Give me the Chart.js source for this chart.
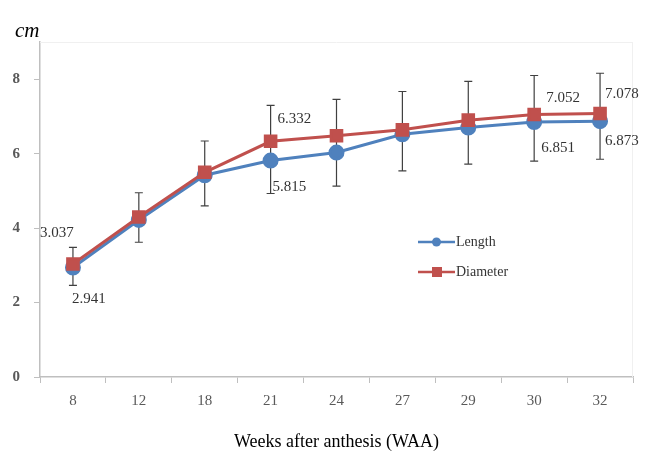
<!DOCTYPE html>
<html>
<head>
<meta charset="utf-8">
<script src="https://cdn.jsdelivr.net/npm/chart.js@4"></script>
<style>
  html, body { margin: 0; padding: 0; background: #fff; }
  #wrap { width: 649px; height: 461px; position: relative; }
</style>
</head>
<body>
<div id="wrap"><canvas id="chart"></canvas></div>
<script>
// Data
const weeks = ['8', '12', '18', '21', '24', '27', '29', '30', '32'];
const lengthValues = [2.941, 4.22, 5.42, 5.815, 6.03, 6.52, 6.70, 6.851, 6.873];
const diameterValues = [3.037, 4.30, 5.50, 6.332, 6.48, 6.64, 6.90, 7.052, 7.078];
const errHigh = [3.48, 4.95, 6.34, 7.30, 7.46, 7.67, 7.94, 8.10, 8.16];
const errLow = [2.46, 3.62, 4.60, 4.93, 5.13, 5.54, 5.72, 5.80, 5.85];
const yTicks = [0, 2, 4, 6, 8];

const SERIF = "'Liberation Serif', 'Times New Roman', serif";
const BLUE = '#4f81bd';
const RED = '#c0504d';

// which points get a value label, and where (pixel offset from the point)
const valueLabels = [
    { ds: 1, i: 0, dx: -16, dy: -31, align: 'center' },
    { ds: 0, i: 0, dx: 16, dy: 32, align: 'center' },
    { ds: 1, i: 3, dx: 7, dy: -22, align: 'left' },
    { ds: 0, i: 3, dx: 2, dy: 27, align: 'left' },
    { ds: 1, i: 7, dx: 12, dy: -16, align: 'left' },
    { ds: 0, i: 7, dx: 7, dy: 26, align: 'left' },
    { ds: 1, i: 8, dx: 5, dy: -19, align: 'left' },
    { ds: 0, i: 8, dx: 5, dy: 20, align: 'left' }
];

// Error bars, drawn under the lines
const errorBars = {
    id: 'errorBars',
    beforeDatasetsDraw(chart) {
        const ctx = chart.ctx;
        const x = chart.scales.x, y = chart.scales.y;
        ctx.save();
        ctx.strokeStyle = '#404040';
        ctx.lineWidth = 1.2;
        weeks.forEach((w, i) => {
            const px = x.getPixelForValue(i);
            const top = y.getPixelForValue(errHigh[i]);
            const bot = y.getPixelForValue(errLow[i]);
            ctx.beginPath();
            ctx.moveTo(px, top); ctx.lineTo(px, bot);
            ctx.moveTo(px - 4, top); ctx.lineTo(px + 4, top);
            ctx.moveTo(px - 4, bot); ctx.lineTo(px + 4, bot);
            ctx.stroke();
        });
        ctx.restore();
    }
};

// Labels, legend and unit text
const extras = {
    id: 'extras',
    afterDraw(chart) {
        const ctx = chart.ctx;
        const area = chart.chartArea;
        ctx.save();

        // faint plot frame
        ctx.strokeStyle = '#f0f0f0';
        ctx.lineWidth = 1;
        ctx.beginPath();
        ctx.moveTo(area.left, area.top + 0.5); ctx.lineTo(area.right, area.top + 0.5);
        ctx.moveTo(area.right - 0.5, area.top); ctx.lineTo(area.right - 0.5, area.bottom);
        ctx.stroke();

        // unit
        ctx.fillStyle = '#000';
        ctx.font = 'italic 21px ' + SERIF;
        ctx.textAlign = 'left';
        ctx.textBaseline = 'middle';
        ctx.fillText('cm', 15, 31);

        // value labels
        ctx.font = '15px ' + SERIF;
        ctx.fillStyle = '#333';
        valueLabels.forEach(l => {
            const pt = chart.getDatasetMeta(l.ds).data[l.i];
            const v = chart.data.datasets[l.ds].data[l.i];
            ctx.textAlign = l.align;
            ctx.fillText(v.toFixed(3), pt.x + l.dx, pt.y + l.dy);
        });

        // legend
        const lx = 418, ly = 242, gap = 30;
        chart.data.datasets.forEach((ds, k) => {
            const yy = ly + k * gap;
            ctx.strokeStyle = ds.borderColor;
            ctx.lineWidth = 2.5;
            ctx.beginPath();
            ctx.moveTo(lx, yy); ctx.lineTo(lx + 37, yy);
            ctx.stroke();
            ctx.fillStyle = ds.backgroundColor;
            if (ds.pointStyle === 'rect') {
                ctx.fillRect(lx + 14, yy - 5, 10, 10);
            } else {
                ctx.beginPath();
                ctx.arc(lx + 18.5, yy, 4.5, 0, Math.PI * 2);
                ctx.fill();
            }
            ctx.fillStyle = '#333';
            ctx.font = '14px ' + SERIF;
            ctx.textAlign = 'left';
            ctx.fillText(ds.label, lx + 38, yy);
        });

        ctx.restore();
    }
};

window.onload = function() {
    const ctx = document.getElementById('chart').getContext('2d');
    new Chart(ctx, {
        type: 'line',
        data: {
            labels: weeks,
            datasets: [{
                label: 'Length',
                data: lengthValues,
                order: 1,
                borderColor: BLUE,
                backgroundColor: BLUE,
                borderWidth: 3,
                pointStyle: 'circle',
                pointRadius: 6.5,
                pointHoverRadius: 6.5,
                tension: 0
            }, {
                label: 'Diameter',
                data: diameterValues,
                order: 0,
                borderColor: RED,
                backgroundColor: RED,
                borderWidth: 3,
                pointStyle: 'rect',
                pointRadius: 7.5,
                pointHoverRadius: 7.5,
                tension: 0
            }]
        },
        options: {
            responsive: true,
            maintainAspectRatio: false,
            animation: false,
            layout: { padding: { left: 0, right: 16, top: 42, bottom: 0 } },
            plugins: {
                legend: { display: false },
                tooltip: { enabled: false }
            },
            scales: {
                x: {
                    offset: true,
                    afterFit: s => { s.height = 84; },
                    grid: {
                        drawOnChartArea: false,
                        offset: true,
                        tickLength: 6,
                        color: '#bfbfbf'
                    },
                    border: { color: '#bfbfbf', width: 1.5 },
                    ticks: {
                        padding: 9,
                        color: '#595959',
                        font: { family: SERIF, size: 15 }
                    },
                    title: {
                        display: true,
                        text: 'Weeks after anthesis (WAA)',
                        color: '#000',
                        font: { family: SERIF, size: 18 },
                        padding: { top: 0, bottom: 8 }
                    }
                },
                y: {
                    min: 0,
                    max: 9,
                    afterFit: s => { s.width = 40; },
                    afterBuildTicks: s => { s.ticks = yTicks.map(v => ({ value: v })); },
                    grid: {
                        drawOnChartArea: false,
                        tickLength: 6,
                        color: '#bfbfbf'
                    },
                    border: { color: '#bfbfbf', width: 1.5 },
                    ticks: {
                        padding: 14,
                        color: '#595959',
                        font: { family: SERIF, size: 15, weight: 'bold' }
                    }
                }
            }
        },
        plugins: [errorBars, extras]
    });
};
</script>
</body>
</html>
